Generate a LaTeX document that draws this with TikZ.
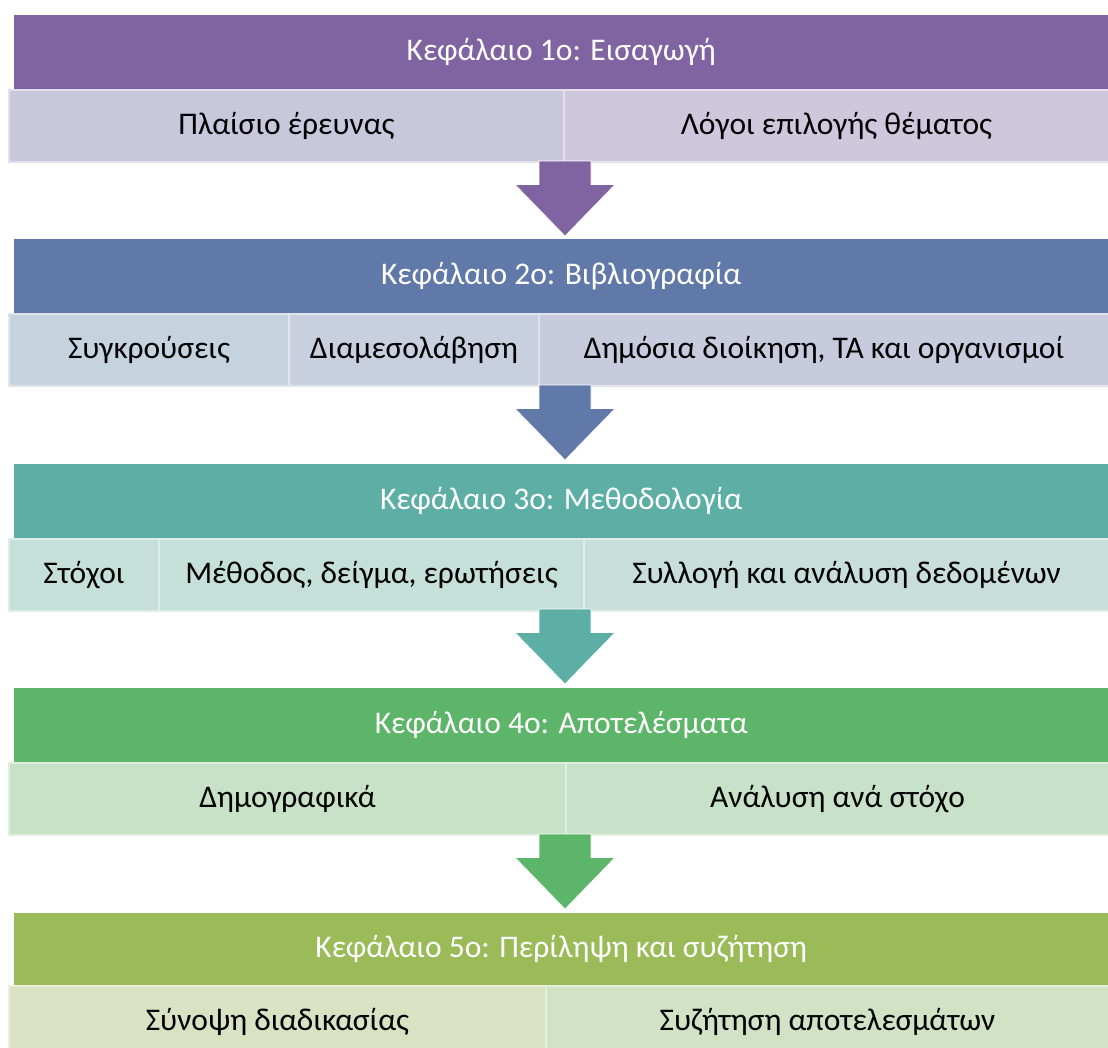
\documentclass[tikz,border=0pt]{standalone}
\usepackage{fontspec}
\setmainfont{Carlito}
\usetikzlibrary{calc}
\definecolor{hp}{HTML}{8064A2}
\definecolor{hb}{HTML}{6079A9}
\definecolor{ht}{HTML}{5DAFA6}
\definecolor{hg}{HTML}{5DB569}
\definecolor{ho}{HTML}{9BBB59}
\definecolor{sp1}{HTML}{C9C7DC}
\definecolor{sp2}{HTML}{CFC7DB}
\definecolor{sb1}{HTML}{C5D3DE}
\definecolor{sb2}{HTML}{C8CFDE}
\definecolor{sb3}{HTML}{C8CADD}
\definecolor{st1}{HTML}{C5DFD9}
\definecolor{st2}{HTML}{C5DFD9}
\definecolor{st3}{HTML}{C7DEDA}
\definecolor{sg1}{HTML}{C8E2C8}
\definecolor{sg2}{HTML}{C8E2CA}
\definecolor{so1}{HTML}{D9E2C3}
\definecolor{so2}{HTML}{D2E2C5}
\tikzset{
  txt/.style={font=\fontsize{31.5}{36}\selectfont},
  hdr/.style={txt, text=white, anchor=north west, inner sep=0pt, minimum height=74pt, minimum width=1094pt},
  sub/.style={txt, text=black, anchor=north west, inner sep=0pt, minimum height=72pt, line width=2pt, fill=#1, draw=#1!55!white},
  blockarrow/.style={fill=#1, draw=white, line width=0.6pt}
}
\newcommand{\downarrowshape}[2]{%
  \path[blockarrow=#2] ($(#1)+(-26,0)$) -- ($(#1)+(26,0)$) -- ($(#1)+(26,23.5)$) -- ($(#1)+(50,23.5)$)
     -- ($(#1)+(0,75)$) -- ($(#1)+(-50,23.5)$) -- ($(#1)+(-26,23.5)$) -- cycle;}
\begin{document}
\begin{tikzpicture}[x=1pt,y=-1pt]
\useasboundingbox (0,0) rectangle (1108,1047);
\clip (0,0) rectangle (1108,1047);
% Chapter 1
\node[hdr, fill=hp] (h1) at (14,15) {Κεφάλαιο 1ο: Εισαγωγή};
\node[sub=sp1, minimum width=555pt] (a1) at (8,89) {Πλαίσιο έρευνας};
\node[sub=sp2, minimum width=545pt] (a2) at (563,89) {Λόγοι επιλογής θέματος};
\coordinate (ar1) at (565,161);
\downarrowshape{ar1}{hp}
% Chapter 2
\node[hdr, fill=hb] (h2) at (14,239) {Κεφάλαιο 2ο: Βιβλιογραφία};
\node[sub=sb1, minimum width=280pt] (b1) at (8,313) {Συγκρούσεις};
\node[sub=sb2, minimum width=250pt] (b2) at (288,313) {Διαμεσολάβηση};
\node[sub=sb3, minimum width=570pt] (b3) at (538,313) {Δημόσια διοίκηση, ΤΑ και οργανισμοί};
\coordinate (ar2) at (565,385);
\downarrowshape{ar2}{hb}
% Chapter 3
\node[hdr, fill=ht] (h3) at (14,464) {Κεφάλαιο 3ο: Μεθοδολογία};
\node[sub=st1, minimum width=150pt] (c1) at (8,538) {Στόχοι};
\node[sub=st2, minimum width=425pt] (c2) at (158,538) {Μέθοδος, δείγμα, ερωτήσεις};
\node[sub=st3, minimum width=525pt] (c3) at (583,538) {Συλλογή και ανάλυση δεδομένων};
\coordinate (ar3) at (565,609);
\downarrowshape{ar3}{ht}
% Chapter 4
\node[hdr, fill=hg] (h4) at (14,688) {Κεφάλαιο 4ο: Αποτελέσματα};
\node[sub=sg1, minimum width=557pt] (d1) at (8,762) {Δημογραφικά};
\node[sub=sg2, minimum width=543pt] (d2) at (565,762) {Ανάλυση ανά στόχο};
\coordinate (ar4) at (565,834);
\downarrowshape{ar4}{hg}
% Chapter 5
\node[hdr, fill=ho, minimum height=72pt] (h5) at (14,913) {Κεφάλαιο 5ο: Περίληψη και συζήτηση};
\node[sub=so1, minimum width=537pt] (e1) at (8,985) {Σύνοψη διαδικασίας};
\node[sub=so2, minimum width=563pt] (e2) at (545,985) {Συζήτηση αποτελεσμάτων};
\end{tikzpicture}
\end{document}
